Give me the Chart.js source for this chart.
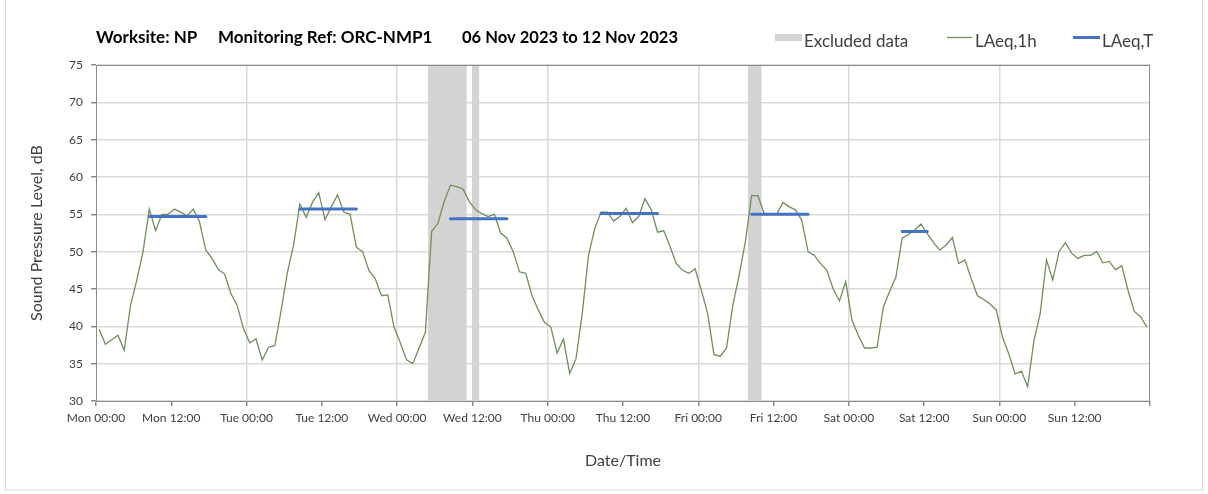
<!DOCTYPE html>
<html>
<head>
<meta charset="utf-8">
<script src="https://cdn.jsdelivr.net/npm/chart.js@4"></script>
<style>
  html, body { margin: 0; padding: 0; background: #fff; }
</style>
</head>
<body>
<canvas id="chart" width="1208" height="494"></canvas>
<script>
// x axis runs in hours from Mon 00:00 (0) to the next Mon 00:00 (168)
const tickLabels = ['Mon 00:00', 'Mon 12:00', 'Tue 00:00', 'Tue 12:00', 'Wed 00:00', 'Wed 12:00',
  'Thu 00:00', 'Thu 12:00', 'Fri 00:00', 'Fri 12:00', 'Sat 00:00', 'Sat 12:00', 'Sun 00:00', 'Sun 12:00'];

// LAeq,1h one value per hour, Mon 00:00 .. Sun 23:00
const hourlyLevels = [
  39.6, 37.6, 38.2, 38.8, 36.8, 42.8, 46.2, 50.0, 55.7, 52.8, 55.0, 55.0, 55.7, 55.3, 54.8, 55.7, 54.0, 50.2, 49.1, 47.6, 47.0, 44.4, 42.8, 39.7,
  37.8, 38.3, 35.5, 37.2, 37.4, 42.1, 47.2, 50.9, 56.4, 54.6, 56.6, 57.9, 54.3, 56.0, 57.6, 55.3, 55.0, 50.6, 50.0, 47.5, 46.4, 44.1, 44.2, 39.9,
  37.8, 35.5, 35.0, 37.1, 39.2, 52.7, 53.8, 56.7, 58.9, 58.7, 58.4, 56.7, 55.6, 55.1, 54.7, 55.0, 52.5, 51.8, 50.0, 47.3, 47.1, 44.1, 42.2, 40.5,
  39.9, 36.4, 38.3, 33.7, 35.6, 41.7, 49.5, 53.1, 55.3, 55.3, 54.1, 54.7, 55.8, 53.9, 54.7, 57.1, 55.6, 52.6, 52.8, 50.7, 48.4, 47.5, 47.1, 47.7,
  44.8, 41.7, 36.2, 36.0, 37.1, 42.8, 46.8, 51.3, 57.5, 57.5, 55.1, 55.0, 55.0, 56.6, 56.0, 55.6, 54.2, 50.0, 49.5, 48.4, 47.5, 45.0, 43.4, 46.0,
  40.8, 38.8, 37.1, 37.1, 37.2, 42.6, 44.7, 46.6, 51.8, 52.3, 52.9, 53.7, 52.4, 51.2, 50.2, 50.9, 51.9, 48.4, 48.9, 46.4, 44.1, 43.6, 43.0, 42.2,
  38.5, 36.3, 33.6, 34.0, 31.9, 38.1, 41.7, 48.9, 46.2, 50.0, 51.2, 49.8, 49.1, 49.5, 49.5, 50.0, 48.5, 48.7, 47.6, 48.1, 44.8, 42.0, 41.3, 39.9
];

// hours flagged as excluded data
const excludedHours = [53, 54, 55, 56, 57, 58, 60, 104, 105];

// LAeq,T working periods
const periodStart = [8.5, 32.5, 56.5, 80.5, 104.5, 128.5];
const periodEnd = [17.5, 41.5, 65.5, 89.5, 113.5, 132.5];
const periodLevel = [54.7, 55.7, 54.4, 55.1, 55.0, 52.7];

const titleParts = ['Worksite: NP', 'Monitoring Ref: ORC-NMP1', '06 Nov 2023 to 12 Nov 2023'];

const FONT = 'Lato';
const TEXT = '#404040';

function periodPoints() {
  const pts = [];
  periodStart.forEach((s, k) => {
    pts.push({x: s, y: periodLevel[k]});
    pts.push({x: periodEnd[k], y: periodLevel[k]});
    pts.push({x: periodEnd[k] + 1, y: null});
  });
  return pts;
}

const decorations = {
  id: 'decorations',
  beforeDraw(chart) {
    const c = chart.ctx;
    c.save();
    c.strokeStyle = '#d9d9d9';
    c.lineWidth = 1;
    c.strokeRect(5.5, -1, 1197, 491);
    c.restore();
  },
  afterDraw(chart) {
    const c = chart.ctx;
    const a = chart.chartArea;
    c.save();
    // plot frame
    c.strokeStyle = '#8c8c8c';
    c.lineWidth = 1;
    c.strokeRect(Math.round(a.left) + 0.5, Math.round(a.top) + 0.5,
      Math.round(a.right - a.left) - 1, Math.round(a.bottom - a.top));

    // title
    c.fillStyle = '#000';
    c.textBaseline = 'alphabetic';
    c.font = 'bold 17px ' + FONT;
    c.fillText(titleParts[0], 96, 43, 106);
    c.fillText(titleParts[1], 218, 43, 220);
    c.fillText(titleParts[2], 462, 43, 216);

    // legend
    c.font = '17px ' + FONT;
    c.fillStyle = '#d3d3d3';
    c.fillRect(775, 34, 27, 7);
    c.fillStyle = TEXT;
    c.fillText('Excluded data', 804, 47, 108);
    c.strokeStyle = '#6f8f5c';
    c.lineWidth = 1.3;
    c.beginPath(); c.moveTo(947, 37.5); c.lineTo(972, 37.5); c.stroke();
    c.fillText('LAeq,1h', 975, 47, 65);
    c.strokeStyle = '#4472c4';
    c.lineWidth = 3;
    c.beginPath(); c.moveTo(1073, 37.5); c.lineTo(1100, 37.5); c.stroke();
    c.fillText('LAeq,T', 1102, 47, 57);
    c.restore();
  }
};

function renderChart() {
  const ctx = document.getElementById('chart').getContext('2d');
  new Chart(ctx, {
    data: {
      datasets: [
        {
          type: 'line',
          label: 'LAeq,T',
          data: periodPoints(),
          borderColor: '#4472c4',
          borderWidth: 3,
          borderCapStyle: 'round',
          pointRadius: 0,
          spanGaps: false,
          order: 1
        },
        {
          type: 'line',
          label: 'LAeq,1h',
          data: hourlyLevels.map((v, i) => ({x: i + 0.5, y: v})),
          borderColor: '#6f8f5c',
          borderWidth: 1.3,
          pointRadius: 0,
          tension: 0,
          order: 2
        },
        {
          type: 'bar',
          label: 'Excluded data',
          data: excludedHours.map(h => ({x: h + 0.5, y: [30, 75]})),
          backgroundColor: '#d3d3d3',
          barPercentage: 1,
          categoryPercentage: 1,
          inflateAmount: 0.5,
          order: 3
        }
      ]
    },
    options: {
      responsive: false,
      animation: false,
      layout: {padding: {top: 65, right: 58, left: 0, bottom: 0}},
      plugins: {legend: {display: false}, tooltip: {enabled: false}, title: {display: false}},
      scales: {
        x: {
          type: 'linear',
          min: 0,
          max: 168,
          offset: false,
          afterFit(scale) { scale.height = 93; },
          afterBuildTicks(scale) {
            scale.ticks = tickLabels.map((_, k) => ({value: k * 12})).concat([{value: 168}]);
          },
          ticks: {
            autoSkip: false,
            maxRotation: 0,
            padding: 5,
            color: TEXT,
            font: {family: FONT, size: 12},
            callback: v => tickLabels[v / 12] || ''
          },
          grid: {
            offset: false,
            color: c => (c.tick && c.tick.value % 24 === 0 && c.tick.value > 0 && c.tick.value < 168) ? '#dadada' : 'rgba(0,0,0,0)',
            lineWidth: 1.5,
            tickColor: '#8c8c8c',
            tickLength: 5
          },
          border: {color: '#8c8c8c', width: 1},
          title: {
            display: true,
            text: 'Date/Time',
            color: TEXT,
            font: {family: FONT, size: 16},
            padding: {top: 0, bottom: 24}
          }
        },
        y: {
          min: 30,
          max: 75,
          afterFit(scale) { scale.width = 96; },
          ticks: {
            stepSize: 5,
            padding: 8,
            color: TEXT,
            font: {family: FONT, size: 12}
          },
          grid: {
            color: '#d9d9d9',
            lineWidth: 1.5,
            tickColor: '#8c8c8c',
            tickLength: 5
          },
          border: {color: '#8c8c8c', width: 1},
          title: {
            display: true,
            text: 'Sound Pressure Level, dB',
            color: TEXT,
            font: {family: FONT, size: 16},
            padding: {top: 27, bottom: 0}
          }
        }
      }
    },
    plugins: [decorations]
  });
}
renderChart();
</script>
</body>
</html>
